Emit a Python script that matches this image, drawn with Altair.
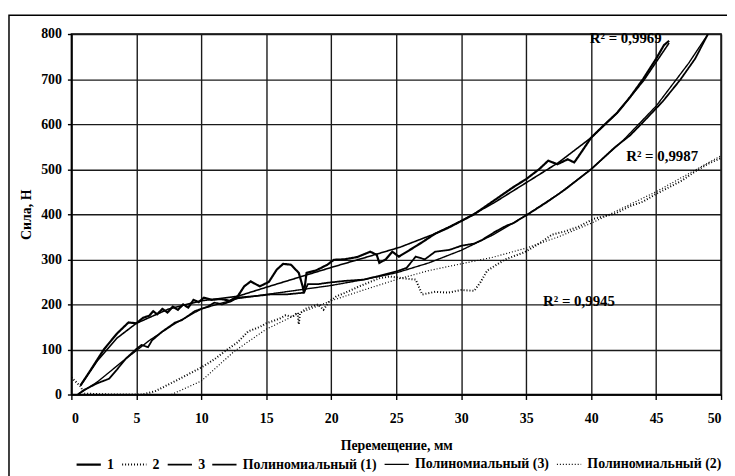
import altair as alt
import pandas as pd

# ---- data ----
x1 = [0.7, 1.5, 2.5, 3.5, 4.4, 5.0, 5.5, 6.0, 6.3, 6.6, 7.0, 7.4, 7.8, 8.2, 8.6, 9.0, 9.4, 9.8, 10.2, 10.8,
      11.5, 12.2, 12.8, 13.3, 13.8, 14.5, 15.2, 15.8, 16.3, 16.9, 17.5, 17.8, 17.9, 18.1, 18.8, 19.7, 20.2,
      21.0, 22.0, 23.0, 23.5, 23.7, 24.2, 24.7, 25.2, 26.0, 27.0, 28.0, 29.0, 30.0, 31.0, 32.0, 33.0, 34.0,
      35.0, 36.0, 36.7, 37.4, 38.2, 38.7, 39.3, 40.0, 41.0, 42.0, 43.0, 44.0, 45.0, 45.6, 46.0]
y1 = [20, 55, 100, 135, 160, 158, 170, 175, 185, 178, 190, 182, 195, 188, 200, 193, 210, 205, 215, 210,
      212, 208, 218, 240, 251, 240, 250, 277, 290, 288, 270, 240, 225, 270, 275, 288, 299,
      300, 305, 317, 310, 292, 300, 317, 306, 320, 338, 357, 370, 385, 400, 420, 440, 460,
      478, 500, 519, 511, 522, 515, 540, 570, 598, 625, 660, 700, 745, 775, 785]

x2 = [0, 0.7, 1.0, 3.0, 5.5, 6.5, 8.0, 9.0, 10.0, 11.0, 12.0, 12.8, 13.6, 14.5, 15.0, 16.0, 16.5, 17.0,
      17.4, 17.5, 17.6, 18.0, 18.5, 19.0, 19.4, 19.8, 20.4, 21.0, 22.0, 23.0, 23.7, 24.5, 25.5, 26.5,
      27.0, 28.0, 29.0, 30.0, 31.0, 31.5, 32.0, 33.4, 34.9, 36.0, 37.0, 38.0, 39.0, 40.2, 41.8, 43.0,
      44.0, 45.0, 46.0, 47.0, 48.0, 49.0, 50.0]
y2 = [38, 18, 2, 0, 0, 8, 30, 45, 60, 78, 100, 116, 140, 150, 158, 168, 176, 172,
      182, 156, 180, 190, 195, 200, 188, 205, 218, 225, 238, 250, 258, 262, 258, 255,
      222, 228, 226, 232, 230, 250, 275, 300, 316, 335, 355, 362, 372, 390, 401, 418,
      428, 445, 460, 475, 495, 512, 525]

x3 = [0.5, 0.9, 2.0, 2.9, 3.5, 4.2, 5.0, 5.4, 5.9, 6.2, 7.0, 7.5, 8.0, 8.5, 9.0, 9.5, 10.0, 10.5, 11.0,
      11.6, 12.3, 12.8, 14.0, 15.3, 16.5, 17.9, 18.2, 19.0, 19.7, 21.0, 22.5, 23.5, 25.0, 25.8, 26.5,
      27.2, 28.0, 29.1, 30.0, 31.0, 31.6, 32.6, 33.5, 34.0, 35.2, 36.5, 38.0, 40.0, 41.8, 43.0, 44.05,
      45.5, 46.85, 48.0, 49.0]
y3 = [0, 9, 25, 35, 55, 80, 101, 110, 105, 120, 140, 150, 160, 165, 175, 185, 190, 195, 204,
      200, 207, 215, 218, 222, 222, 226, 245, 245, 248, 252, 255, 262, 273, 281, 306,
      300, 317, 321, 330, 335, 343, 361, 375, 380, 401, 425, 455, 500, 548, 575, 606,
      650, 698, 745, 800]

xp1 = [0.7, 2, 3.5, 5, 7.5, 10, 12.8, 15, 17.5, 20, 22.5, 25.3, 28, 30, 32.5, 35, 37.5, 40, 42, 44, 46]
yp1 = [20, 75, 125, 158, 190, 208, 218, 238, 260, 282, 303, 327, 357, 385, 425, 470, 515, 570, 625, 695, 780]

xp3 = [0.5, 2, 4, 6, 8, 10, 12.8, 15, 17.5, 20, 22.5, 25, 27.5, 30, 32.5, 35, 37.5, 40, 42.5, 45, 47.5, 49]
yp3 = [0, 28, 75, 120, 158, 190, 213, 222, 232, 242, 255, 270, 292, 320, 355, 398, 445, 500, 565, 640, 735, 800]

xp2 = [7.7, 10, 12.5, 15, 17.5, 20, 22.5, 25, 27.5, 30, 32.5, 35, 37.5, 40, 42.5, 45, 47.5, 50]
yp2 = [0, 30, 95, 145, 180, 208, 232, 255, 275, 290, 305, 325, 350, 380, 415, 450, 490, 530]

series_names = ["1", "2", "3", "Полиномиальный (1)", "Полиномиальный (3)", "Полиномиальный (2)"]
dashes = [[1, 0], [1, 2], [1, 0], [1, 0], [1, 0], [1, 2]]
widths = [2.2, 1.2, 2.2, 1.0, 1.0, 1.2]

r2_x = [39.9, 42.7, 36.3]
r2_y = [780, 519, 196]
r2_text = ["R² = 0,9969", "R² = 0,9987", "R² = 0,9945"]

x_ticks = list(range(0, 51, 5))
y_ticks = list(range(0, 801, 100))

# ---- build tables ----
rows = []
for name, xs, ys in [("1", x1, y1), ("2", x2, y2), ("3", x3, y3),
                     ("Полиномиальный (1)", xp1, yp1),
                     ("Полиномиальный (3)", xp3, yp3),
                     ("Полиномиальный (2)", xp2, yp2)]:
    for i, (a, b) in enumerate(zip(xs, ys)):
        rows.append({"s": name, "x": a, "y": b, "i": i})
df = pd.DataFrame(rows)
ann = pd.DataFrame({"x": r2_x, "y": r2_y, "t": r2_text})

FONT = "Liberation Serif"

xscale = alt.Scale(domain=[0, 50], nice=False, zero=False)
yscale = alt.Scale(domain=[0, 800], nice=False)

lines = alt.Chart(df).mark_line(clip=True).encode(
    x=alt.X("x:Q", scale=xscale,
            axis=alt.Axis(values=x_ticks, title="Перемещение, мм", tickSize=5, labelPadding=12,
                          titlePadding=14)),
    y=alt.Y("y:Q", scale=yscale,
            axis=alt.Axis(values=y_ticks, title="Сила, Н", tickSize=4, labelPadding=6,
                          titlePadding=7)),
    color=alt.Color("s:N", scale=alt.Scale(domain=series_names, range=["black"] * 6),
                    title=None,
                    legend=alt.Legend(orient="none", legendX=4, legendY=421, direction="horizontal",
                                      columns=6, symbolType="stroke", symbolSize=600,
                                      symbolStrokeWidth=1.2, labelOffset=5, columnPadding=4,
                                      labelFont=FONT, labelFontSize=14, labelFontWeight="bold",
                                      labelColor="black", labelLimit=300)),
    strokeDash=alt.StrokeDash("s:N", scale=alt.Scale(domain=series_names, range=dashes), title=None),
    strokeWidth=alt.StrokeWidth("s:N", scale=alt.Scale(domain=series_names, range=widths), legend=None),
    order=alt.Order("i:Q"),
)

texts = alt.Chart(ann).mark_text(align="left", baseline="alphabetic", font=FONT, fontSize=15,
                                  fontWeight="bold", color="black").encode(
    x=alt.X("x:Q", scale=xscale), y=alt.Y("y:Q", scale=yscale), text="t:N")

frame = alt.Chart(alt.Data(values=[{}])).mark_rect(fillOpacity=0, stroke="black", strokeWidth=1.5,
                                                   clip=False).encode(
    x=alt.value(-63), x2=alt.value(720), y=alt.value(-19), y2=alt.value(520))

chart = alt.layer(frame, lines, texts).properties(
    width=656, height=364,
    autosize=alt.AutoSizeParams(type="none"),
    padding={"left": 64, "top": 24, "right": 6, "bottom": 80},
).configure_view(stroke="black", strokeWidth=1.5).configure_axis(
    grid=True, gridColor="#1a1a1a", gridWidth=1.4, gridOpacity=1,
    domainColor="black", domainWidth=1.5, tickColor="black", tickWidth=1.4,
    labelFont=FONT, labelFontSize=14, labelFontWeight="bold", labelColor="black",
    titleFont=FONT, titleFontSize=14, titleFontWeight="bold", titleColor="black",
).configure_axisX(labelAngle=0)

chart.save("out.html", embed_options={"renderer": "svg", "actions": False})
